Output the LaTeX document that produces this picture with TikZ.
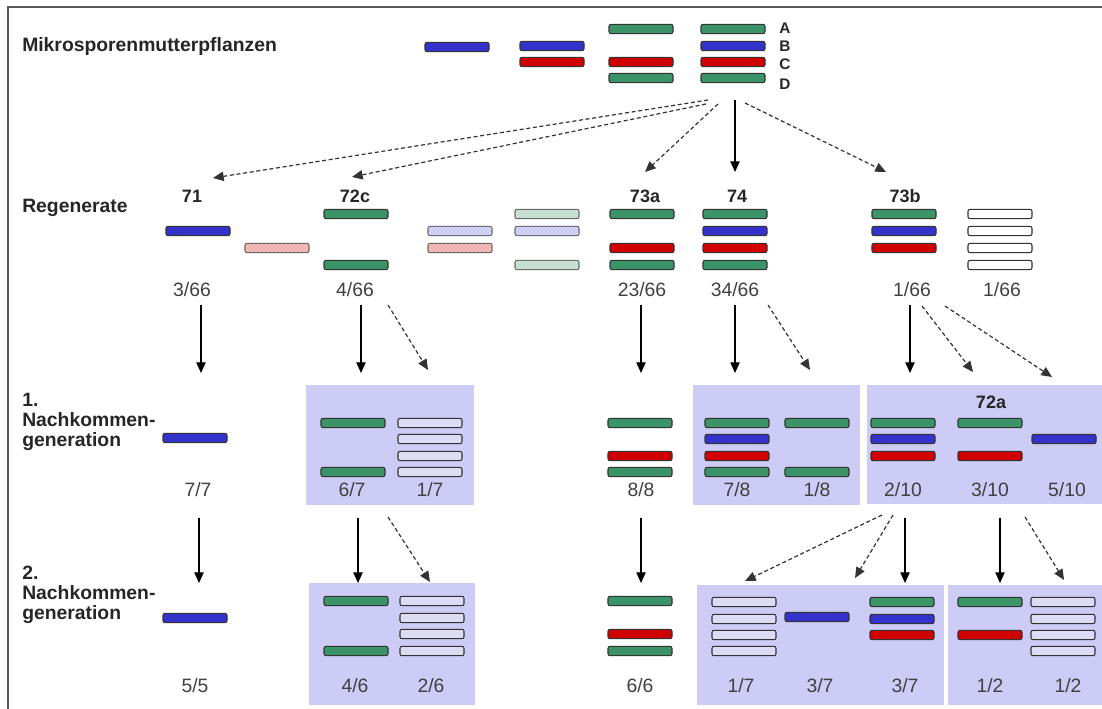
\documentclass[tikz,border=0pt]{standalone}
\usepackage{fontspec}
\setmainfont{Liberation Sans}
\usetikzlibrary{arrows.meta,patterns}

\definecolor{chrg}{HTML}{3A9467}
\definecolor{chrb}{HTML}{3333CC}
\definecolor{chrr}{HTML}{D00000}
\definecolor{boxbg}{HTML}{CCCCF7}
\definecolor{emptyfill}{HTML}{DCDCF5}
\definecolor{fractext}{HTML}{404040}

\tikzset{
  chr/.style={draw=black!80, line width=0.8pt, rounded corners=1.5pt,
    minimum width=48pt, minimum height=7pt, inner sep=0pt},
  chrG/.style={chr, fill=chrg},
  chrB/.style={chr, fill=chrb},
  chrR/.style={chr, fill=chrr},
  chrE/.style={chr, fill=white},
  chrL/.style={chr, fill=emptyfill},
  chrPr/.style={chr, draw=black!60, fill=chrr!25, postaction={pattern=crosshatch dots, pattern color=chrr!55}},
  chrPb/.style={chr, draw=black!60, fill=chrb!20, postaction={pattern=crosshatch dots, pattern color=chrb!50}},
  chrPg/.style={chr, draw=black!60, fill=chrg!25, postaction={pattern=crosshatch dots, pattern color=chrg!60}},
  rowlab/.style={font=\bfseries\fontsize{14.5}{15}\selectfont, text=black!85, align=left, inner sep=0pt},
  plname/.style={font=\bfseries\fontsize{13.5}{15}\selectfont, text=black!85},
  letter/.style={font=\bfseries\fontsize{11.5}{12}\selectfont, text=black!85},
  frac/.style={font=\fontsize{14.5}{16}\selectfont, text=fractext},
  arr/.style={-{Triangle[length=8pt,width=7pt]}, line width=0.9pt, black},
  darr/.style={arr, dash pattern=on 3pt off 2pt, black!80}
}

\begin{document}
\begin{tikzpicture}[x=0.75pt,y=-0.75pt]
\useasboundingbox (0,0) rectangle (1102,709);
\draw[black!65, line width=1.5pt] (8,709) -- (8,7) -- (1102,7);

% hinterlegte Gruppen
\fill[boxbg] (306,385) rectangle (474,505);
\fill[boxbg] (693,385) rectangle (860,505);
\fill[boxbg] (867,385) rectangle (1102,504);
\fill[boxbg] (309,583) rectangle (475,705);
\fill[boxbg] (697,585) rectangle (944,705);
\fill[boxbg] (948,585) rectangle (1102,705);

% Mikrosporenmutterpflanzen
\node[rowlab, anchor=west] (mikro) at (22,47) {Mikrosporenmutterpflanzen};
\node[chrB] (m1b) at (457,47) {};
\node[chrB] (m2b) at (552,46) {};
\node[chrR] (m2c) at (552,62) {};
\node[chrG] (m3a) at (641,29) {};
\node[chrR] (m3c) at (641,62) {};
\node[chrG] (m3d) at (641,78) {};
\node[chrG] (m4a) at (733,29) {};
\node[chrB] (m4b) at (733,46) {};
\node[chrR] (m4c) at (733,62) {};
\node[chrG] (m4d) at (733,78) {};
\foreach \l/\y in {A/28,B/46,C/64,D/84}
  \node[letter] (l\l) at (785,\y) {\l};

% Regenerate
\node[rowlab, anchor=west] (regen) at (22,208) {Regenerate};
\node[plname] (n71) at (192,196) {71};
\node[plname] (n72c) at (355,196) {72c};
\node[plname] (n73a) at (645,196) {73a};
\node[plname] (n74) at (737,196) {74};
\node[plname] (n73b) at (905,196) {73b};
\node[chrB] (r71b) at (198,231) {};
\node[chrPr] (rpc) at (277,248) {};
\node[chrG] (r72a) at (356,214) {};
\node[chrG] (r72d) at (356,265) {};
\node[chrPb] (rq1b) at (460,231) {};
\node[chrPr] (rq1c) at (460,248) {};
\node[chrPg] (rq2a) at (547,214) {};
\node[chrPb] (rq2b) at (547,231) {};
\node[chrPg] (rq2d) at (547,265) {};
\node[chrG] (r73a) at (642,214) {};
\node[chrR] (r73c) at (642,248) {};
\node[chrG] (r73d) at (642,265) {};
\node[chrG] (r74a) at (735,214) {};
\node[chrB] (r74b) at (735,231) {};
\node[chrR] (r74c) at (735,248) {};
\node[chrG] (r74d) at (735,265) {};
\node[chrG] (r73ba) at (904,214) {};
\node[chrB] (r73bb) at (904,231) {};
\node[chrR] (r73bc) at (904,248) {};
\foreach \y [count=\i] in {214,231,248,265}
  \node[chrE] (rw\i) at (1000,\y) {};
\node[frac] (f71) at (192,290) {3/66};
\node[frac] (f72c) at (355,290) {4/66};
\node[frac] (f73a) at (642,290) {23/66};
\node[frac] (f74) at (735,290) {34/66};
\node[frac] (f73b) at (912,290) {1/66};
\node[frac] (fw) at (1002,290) {1/66};

% 1. Nachkommengeneration
\node[rowlab, anchor=north west] (gen1) at (22,393) {1.\\Nachkommen-\\generation};
\node[chrB] (a71b) at (195,438) {};
\node[chrG] (a72a) at (353,423) {};
\node[chrG] (a72d) at (353,472) {};
\foreach \y [count=\i] in {423,439,456,472}
  \node[chrL] (aw\i) at (430,\y) {};
\node[chrG] (a73a) at (640,423) {};
\node[chrR] (a73c) at (640,456) {};
\node[chrG] (a73d) at (640,472) {};
\node[chrG] (a74a) at (737,423) {};
\node[chrB] (a74b) at (737,439) {};
\node[chrR] (a74c) at (737,456) {};
\node[chrG] (a74d) at (737,472) {};
\node[chrG] (a74xa) at (817,423) {};
\node[chrG] (a74xd) at (817,472) {};
\node[chrG] (a73ba) at (903,423) {};
\node[chrB] (a73bb) at (903,439) {};
\node[chrR] (a73bc) at (903,456) {};
\node[plname] (n72a) at (991,402) {72a};
\node[chrG] (a72aa) at (990,423) {};
\node[chrR] (a72ac) at (990,456) {};
\node[chrB] (a73xb) at (1064,439) {};
\node[frac] (g71) at (198,490) {7/7};
\node[frac] (g72) at (352,490) {6/7};
\node[frac] (g72w) at (430,490) {1/7};
\node[frac] (g73) at (641,490) {8/8};
\node[frac] (g74) at (737,490) {7/8};
\node[frac] (g74x) at (817,490) {1/8};
\node[frac] (g73b) at (903,490) {2/10};
\node[frac] (g72a) at (990,490) {3/10};
\node[frac] (g73x) at (1067,490) {5/10};

% 2. Nachkommengeneration
\node[rowlab, anchor=north west] (gen2) at (22,566) {2.\\Nachkommen-\\generation};
\node[chrB] (b71b) at (195,618) {};
\node[chrG] (b72a) at (356,601) {};
\node[chrG] (b72d) at (356,651) {};
\foreach \y [count=\i] in {601,618,634,651}
  \node[chrL] (bw\i) at (432,\y) {};
\node[chrG] (b73a) at (640,601) {};
\node[chrR] (b73c) at (640,634) {};
\node[chrG] (b73d) at (640,651) {};
\foreach \y [count=\i] in {602,619,635,651}
  \node[chrL] (bv\i) at (744,\y) {};
\node[chrB] (b73bb) at (817,617) {};
\node[chrG] (b73ca) at (902,602) {};
\node[chrB] (b73cb) at (902,619) {};
\node[chrR] (b73cc) at (902,635) {};
\node[chrG] (b72aa) at (990,602) {};
\node[chrR] (b72ac) at (990,635) {};
\foreach \y [count=\i] in {602,619,635,651}
  \node[chrL] (bu\i) at (1063,\y) {};
\node[frac] (h71) at (195,686) {5/5};
\node[frac] (h72) at (355,686) {4/6};
\node[frac] (h72w) at (431,686) {2/6};
\node[frac] (h73) at (640,686) {6/6};
\node[frac] (h73bv) at (741,686) {1/7};
\node[frac] (h73bb) at (820,686) {3/7};
\node[frac] (h73bc) at (905,686) {3/7};
\node[frac] (h72aa) at (990,686) {1/2};
\node[frac] (h72au) at (1068,686) {1/2};

% Pfeile
\coordinate (o71) at (708,100);  \coordinate (t71) at (213,178);
\coordinate (o72) at (706,104);  \coordinate (t72) at (352,177);
\coordinate (o73a) at (718,104); \coordinate (t73a) at (645,172);
\coordinate (o74) at (735,100);  \coordinate (t74) at (735,172);
\coordinate (o73b) at (745,103); \coordinate (t73b) at (886,172);
\draw[darr] (o71) -- (t71);
\draw[darr] (o72) -- (t72);
\draw[darr] (o73a) -- (t73a);
\draw[arr] (o74) -- (t74);
\draw[darr] (o73b) -- (t73b);

\foreach \x in {201,361,641,735,910}
  \draw[arr] (\x,305) -- (\x,373);
\draw[darr] (388,305) -- (428,370);
\draw[darr] (768,305) -- (810,370);
\draw[darr] (922,306) -- (973,372);
\draw[darr] (945,306) -- (1052,377);

\foreach \x in {199,358,641,905,1000}
  \draw[arr] (\x,518) -- (\x,583);
\draw[darr] (388,517) -- (430,582);
\draw[darr] (882,515) -- (745,581);
\draw[darr] (893,515) -- (855,578);
\draw[darr] (1025,517) -- (1064,580);
\end{tikzpicture}
\end{document}
